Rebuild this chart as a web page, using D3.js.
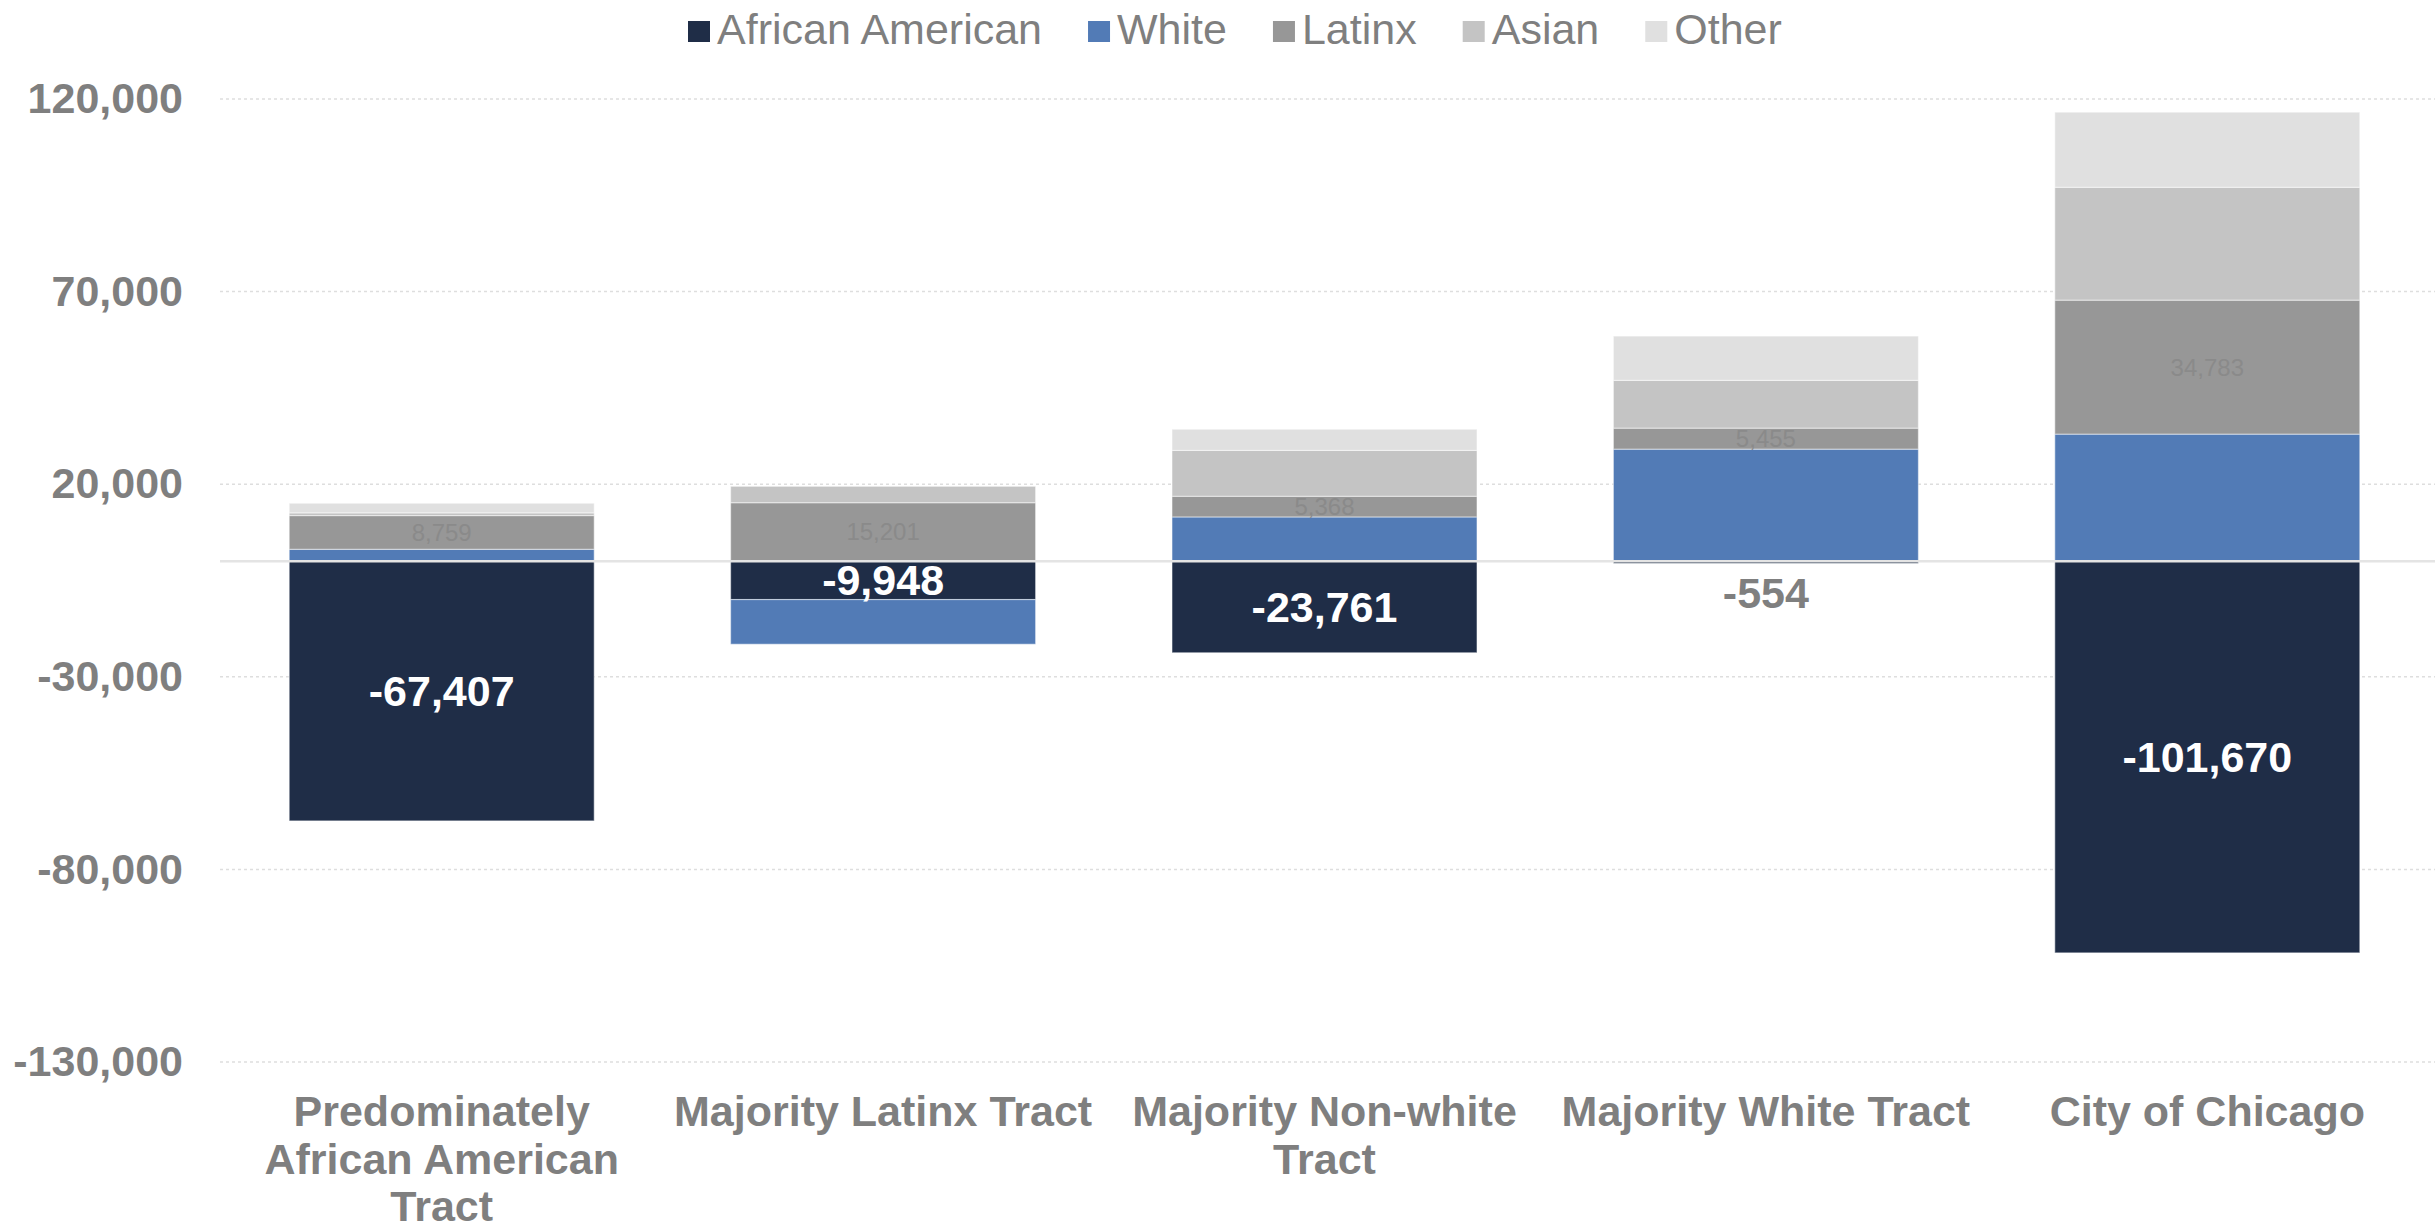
<!DOCTYPE html>
<html>
    <head>
        <meta charset="utf-8">
        <script src="https://d3js.org/d3.v7.min.js"></script>
        <style>
            body { margin: 0; background: #ffffff; }
            svg { display: block; font-family: 'Liberation Sans', Arial, sans-serif; }
        </style>
    </head>
    <body>
        <script>
            const categories = [
                'Predominately African American Tract',
                'Majority Latinx Tract',
                'Majority Non-white Tract',
                'Majority White Tract',
                'City of Chicago'
            ]
            const seriesNames = ['African American', 'White', 'Latinx', 'Asian', 'Other']
            const africanAmerican = [-67407, -9948, -23761, -554, -101670]
            const white = [3100, -11600, 11500, 29100, 33000]
            const latinx = [8759, 15201, 5368, 5455, 34783]
            const asian = [700, 4250, 11900, 12400, 29300]
            const other = [2500, 0, 5500, 11500, 19500]
            const yTicks = [-130000, -80000, -30000, 20000, 70000, 120000]

            const colors = {
                'African American': '#1f2d47',
                'White': '#527bb6',
                'Latinx': '#979797',
                'Asian': '#c4c4c4',
                'Other': '#e0e0e0'
            }

            const W = 2435
            const H = 1228
            const plot = { left: 221, right: 2428, top: 99, bottom: 1062 }

            const fmt = d3.formatLocale({
                decimal: '.', thousands: ',', grouping: [3],
                currency: ['$', ''], minus: '-'
            }).format(',')

            const svg = d3.select('body').append('svg')
                .attr('width', W).attr('height', H)

            const rows = categories.map((c, i) => ({
                category: c,
                'African American': africanAmerican[i],
                'White': white[i],
                'Latinx': latinx[i],
                'Asian': asian[i],
                'Other': other[i]
            }))

            const stacked = d3.stack()
                .keys(seriesNames)
                .offset(d3.stackOffsetDiverging)(rows)

            const x = d3.scaleBand()
                .domain(categories)
                .range([plot.left, plot.right])
                .paddingInner(0.309)
                .paddingOuter(0.1545)

            const y = d3.scaleLinear()
                .domain([-130000, 120000])
                .range([plot.bottom, plot.top])

            // gridlines
            svg.append('g')
                .selectAll('line')
                .data(yTicks).enter()
                .append('line')
                    .attr('x1', plot.left - 1).attr('x2', W)
                    .attr('y1', d => y(d)).attr('y2', d => y(d))
                    .attr('stroke', '#dedede')
                    .attr('stroke-width', 1.5)
                    .attr('stroke-dasharray', '3,3')

            // y axis labels
            const yAxis = svg.append('g')
                .attr('transform', `translate(183, 0)`)
                .call(d3.axisLeft(y).tickValues(yTicks).tickSize(0).tickPadding(0)
                    .tickFormat(fmt))
            yAxis.select('.domain').remove()
            yAxis.selectAll('text')
                .attr('fill', '#7f7f7f')
                .attr('font-size', 43)
                .attr('font-weight', 'bold')
                .attr('font-family', "'Liberation Sans', Arial, sans-serif")

            // bars
            const layers = svg.append('g')
                .selectAll('g')
                .data(stacked).enter()
                .append('g')
                    .attr('fill', d => colors[d.key])

            layers.selectAll('rect')
                .data(d => d).enter()
                .append('rect')
                    .attr('x', d => x(d.data.category))
                    .attr('width', x.bandwidth())
                    .attr('y', d => y(Math.max(d[0], d[1])))
                    .attr('height', d => Math.abs(y(d[0]) - y(d[1])))
                    .attr('stroke', '#ffffff')
                    .attr('stroke-opacity', 0.45)
                    .attr('stroke-width', 1.2)

            // zero line
            svg.append('line')
                .attr('x1', plot.left - 1).attr('x2', W)
                .attr('y1', y(0)).attr('y2', y(0))
                .attr('stroke', '#e4e4e4')
                .attr('stroke-width', 2.5)

            // Latinx labels
            const latinxLayer = stacked.find(s => s.key === 'Latinx')
            svg.append('g')
                .selectAll('text')
                .data(latinxLayer).enter()
                .append('text')
                    .attr('x', d => x(d.data.category) + x.bandwidth() / 2)
                    .attr('y', d => (y(d[0]) + y(d[1])) / 2)
                    .attr('dy', '0.35em')
                    .attr('text-anchor', 'middle')
                    .attr('font-size', 24)
                    .attr('fill', '#8a8a8a')
                    .text(d => fmt(d.data['Latinx']))

            // African American labels
            const aaLayer = stacked.find(s => s.key === 'African American')
            svg.append('g')
                .selectAll('text')
                .data(aaLayer).enter()
                .append('text')
                    .attr('x', d => x(d.data.category) + x.bandwidth() / 2)
                    .attr('y', d => {
                        const h = Math.abs(y(d[0]) - y(d[1]))
                        return h < 20 ? y(d[0]) + 30 : (y(d[0]) + y(d[1])) / 2
                    })
                    .attr('dy', '0.35em')
                    .attr('text-anchor', 'middle')
                    .attr('font-size', 43)
                    .attr('font-weight', 'bold')
                    .attr('fill', d => Math.abs(y(d[0]) - y(d[1])) < 20 ? '#7f7f7f' : '#ffffff')
                    .text(d => fmt(d.data['African American']))

            // category labels
            const catG = svg.append('g')
            catG.selectAll('text')
                .data(categories).enter()
                .append('text')
                    .attr('x', d => x(d) + x.bandwidth() / 2)
                    .attr('y', 1126)
                    .attr('text-anchor', 'middle')
                    .attr('font-size', 43)
                    .attr('font-weight', 'bold')
                    .attr('fill', '#7f7f7f')
                    .text(d => d)
                    .each(wrap)

            function wrap () {
                const text = d3.select(this)
                const words = text.text().split(/\s+/)
                const cx = text.attr('x')
                text.text(null)
                let line = []
                let tspan = text.append('tspan').attr('x', cx).attr('dy', 0)
                words.forEach(w => {
                    line.push(w)
                    tspan.text(line.join(' '))
                    if (tspan.node().getComputedTextLength() > 440 && line.length > 1) {
                        line.pop()
                        tspan.text(line.join(' '))
                        line = [w]
                        tspan = text.append('tspan').attr('x', cx).attr('dy', 47.5).text(w)
                    }
                })
            }

            // legend
            const legend = svg.append('g').attr('transform', 'translate(688, 0)')
            let lx = 0
            seriesNames.forEach(name => {
                const item = legend.append('g').attr('transform', `translate(${lx}, 0)`)
                item.append('rect')
                    .attr('x', 0).attr('y', 21)
                    .attr('width', 22).attr('height', 21)
                    .attr('fill', colors[name])
                const t = item.append('text')
                    .attr('x', 29).attr('y', 44)
                    .attr('font-size', 43)
                    .attr('fill', '#7f7f7f')
                    .text(name)
                lx += 29 + t.node().getComputedTextLength() + 46
            })
        </script>
    </body>
</html>
